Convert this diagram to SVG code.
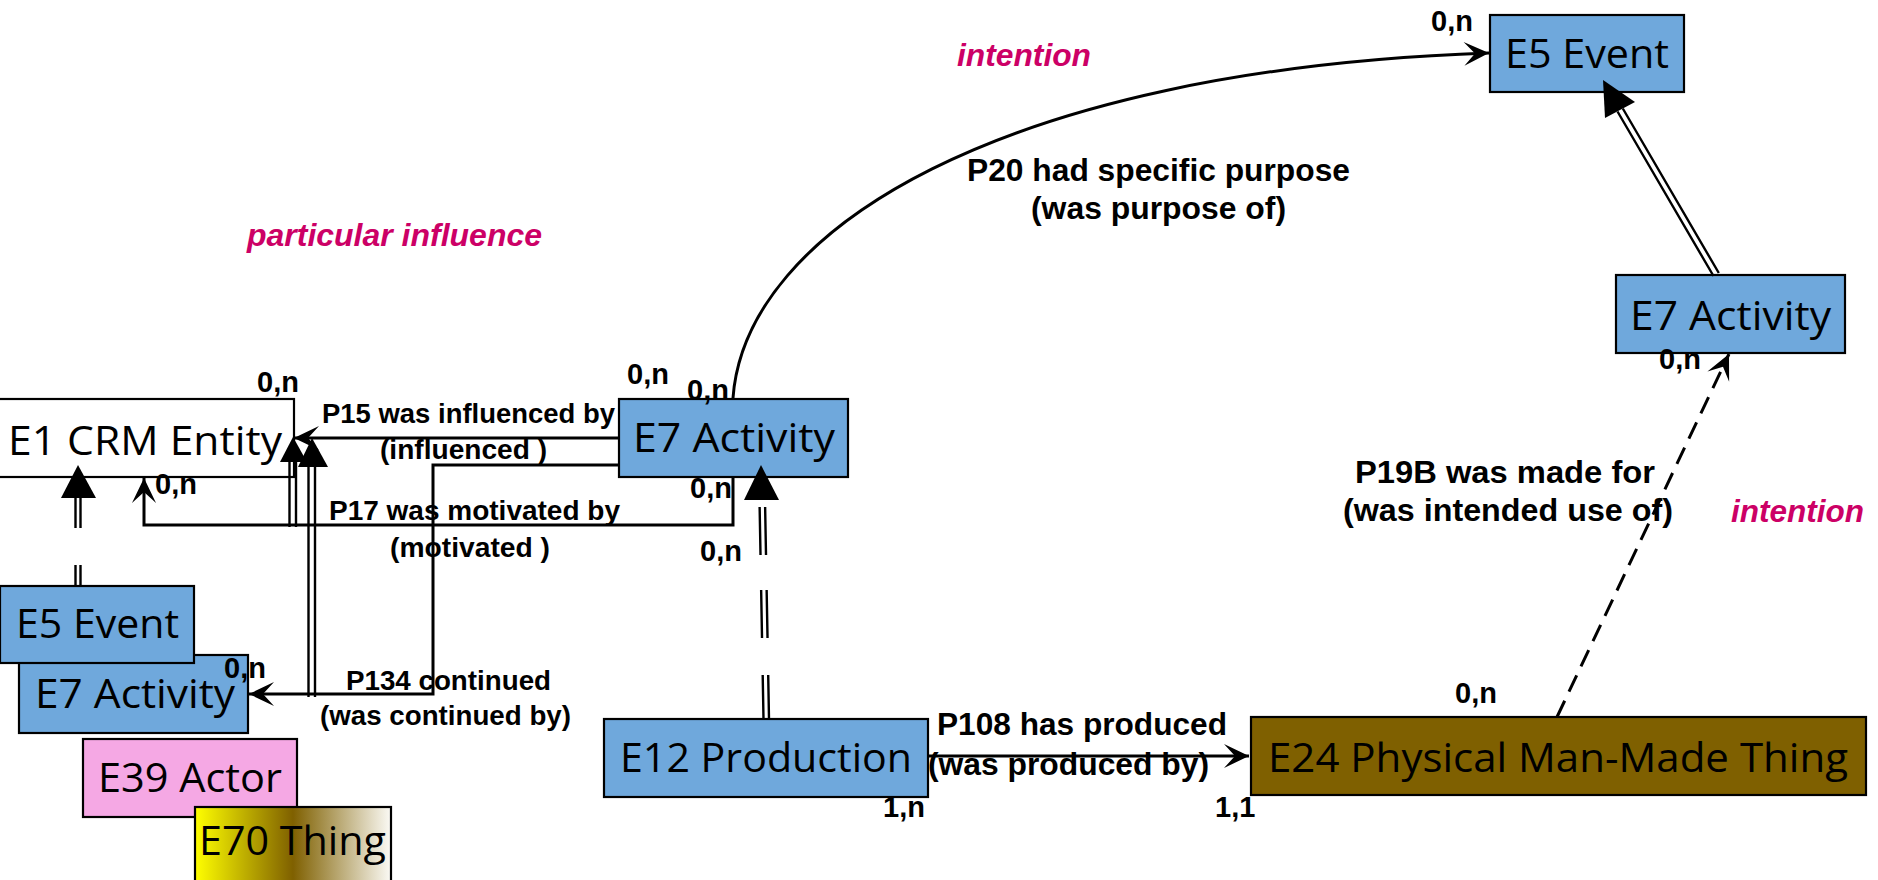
<svg xmlns="http://www.w3.org/2000/svg" width="1878" height="880" viewBox="0 0 1878 880">
<style>
.box{stroke:#000;stroke-width:2.2}
.blue{fill:#6fa8dc}
.nt{font-family:"Open Sans","Liberation Sans",sans-serif;font-size:41px;fill:#000;text-anchor:middle}
.lb{font-family:"Liberation Sans",Arial,sans-serif;font-weight:bold;font-size:27px;fill:#000;text-anchor:middle}
.lb2{font-family:"Liberation Sans",Arial,sans-serif;font-weight:bold;font-size:31px;fill:#000;text-anchor:middle}
.card{font-family:"Liberation Sans",Arial,sans-serif;font-weight:bold;font-size:29px;fill:#000}
.pink{font-family:"Liberation Sans",Arial,sans-serif;font-weight:bold;font-style:italic;font-size:31px;fill:#cc0066;text-anchor:middle}
.ln{fill:none;stroke:#000;stroke-width:3}
.dl{fill:none;stroke:#000;stroke-width:2.4}
</style>
<defs>
<marker id="st" markerWidth="30" markerHeight="26" refX="25" refY="12" orient="auto" markerUnits="userSpaceOnUse" viewBox="0 0 30 24" overflow="visible">
<path d="M25,12 L0,0 L11,12 L0,24 Z" fill="#000"/>
</marker>
<linearGradient id="g70" x1="0" y1="0" x2="1" y2="0">
<stop offset="0" stop-color="#ffff00"/>
<stop offset="0.5" stop-color="#7f6000"/>
<stop offset="1" stop-color="#fbfaf5"/>
</linearGradient>
</defs>

<g id="E1"><rect class="box" x="-3" y="399" width="297" height="78" fill="#fff"/><text class="nt" x="145" y="455" textLength="274" lengthAdjust="spacingAndGlyphs">E1 CRM Entity</text></g>
<g id="E7c"><rect class="box blue" x="619" y="399" width="229" height="78"/><text class="nt" x="734" y="452" textLength="202" lengthAdjust="spacingAndGlyphs">E7 Activity</text></g>
<g id="E7l"><rect class="box blue" x="19" y="655" width="229" height="78"/><text class="nt" x="135" y="708" textLength="200" lengthAdjust="spacingAndGlyphs">E7 Activity</text></g>
<g id="E5l"><rect class="box blue" x="0" y="586" width="194" height="77"/><text class="nt" x="97.5" y="638" textLength="163" lengthAdjust="spacingAndGlyphs">E5 Event</text></g>
<g id="E39"><rect class="box" x="83" y="739" width="214" height="78" fill="#f5a8e4"/><text class="nt" x="190" y="792" textLength="184" lengthAdjust="spacingAndGlyphs">E39 Actor</text></g>
<g id="E70"><rect class="box" x="195" y="807" width="196" height="76" fill="url(#g70)"/><text class="nt" x="292.5" y="855" textLength="187" lengthAdjust="spacingAndGlyphs">E70 Thing</text></g>
<g id="E12"><rect class="box blue" x="604" y="719" width="324" height="78"/><text class="nt" x="766" y="772" textLength="292" lengthAdjust="spacingAndGlyphs">E12 Production</text></g>
<g id="E24"><rect class="box" x="1251" y="717" width="615" height="78" fill="#7f6000"/><text class="nt" x="1558" y="772" textLength="580" lengthAdjust="spacingAndGlyphs">E24 Physical Man-Made Thing</text></g>
<g id="E5t"><rect class="box blue" x="1490" y="15" width="194" height="77"/><text class="nt" x="1587" y="68" textLength="164" lengthAdjust="spacingAndGlyphs">E5 Event</text></g>
<g id="E7r"><rect class="box blue" x="1616" y="275" width="229" height="78"/><text class="nt" x="1730.5" y="330" textLength="201" lengthAdjust="spacingAndGlyphs">E7 Activity</text></g>

<g id="connectors">
<path class="ln" d="M619,438 L294,438" marker-end="url(#st)"/>
<path class="ln" d="M733,477 L733,525 L144,525 L144,478" marker-end="url(#st)"/>
<path class="ln" d="M619,465 L433,465 L433,694 L249,694" marker-end="url(#st)"/>
<path class="ln" d="M733,398 C745,230 1000,70 1489,53" marker-end="url(#st)"/>
<path class="ln" d="M928,756 L1249,756" marker-end="url(#st)"/>
<path class="ln" d="M1557,717 L1729,354" stroke-width="2.6" stroke-dasharray="18 10" marker-end="url(#st)"/>
<!-- generalisation E5 left -> E1 -->
<path class="dl" d="M75.5,498 V528 M80.5,498 V528 M75.5,565 V586 M80.5,565 V586"/>
<polygon points="78,465 61,498 96,498" fill="#000"/>
<!-- pair A -->
<path class="dl" d="M289.5,462 V527 M296,462 V527"/>
<polygon points="293,437 280,462 307,462" fill="#000"/>
<!-- pair B -->
<path class="dl" d="M308.5,467 V697 M315,467 V697"/>
<polygon points="312,438 298,467 328,467" fill="#000"/>
<!-- E12 -> E7 central -->
<path class="dl" d="M763.5,719 L759.5,500 M769,719 L765,500" stroke-dasharray="44 37 48 35 48 40"/>
<polygon points="761,465 744,500 779,500" fill="#000"/>
<!-- E7 right -> E5 top -->
<path class="dl" d="M1617.5,111.5 L1713.5,276 M1622.8,108.5 L1718.8,273"/>
<polygon points="1603,80 1635,102 1605,118" fill="#000"/>
</g>

<g id="labels">
<text class="lb" x="468.5" y="423" textLength="293" lengthAdjust="spacingAndGlyphs">P15 was influenced by</text>
<text class="lb" x="463.5" y="459" textLength="167" lengthAdjust="spacingAndGlyphs">(influenced )</text>
<text class="lb" x="474.5" y="520" textLength="291" lengthAdjust="spacingAndGlyphs">P17 was motivated by</text>
<text class="lb" x="470" y="557" textLength="160" lengthAdjust="spacingAndGlyphs">(motivated )</text>
<text class="lb" x="448.5" y="690" textLength="205" lengthAdjust="spacingAndGlyphs">P134 continued</text>
<text class="lb" x="445.5" y="725" textLength="251" lengthAdjust="spacingAndGlyphs">(was continued by)</text>
<text class="lb2" x="1082" y="735" textLength="290" lengthAdjust="spacingAndGlyphs">P108 has produced</text>
<text class="lb2" x="1068.5" y="775" textLength="281" lengthAdjust="spacingAndGlyphs">(was produced by)</text>
<text class="lb2" x="1158.5" y="181" textLength="383" lengthAdjust="spacingAndGlyphs">P20 had specific purpose</text>
<text class="lb2" x="1158.5" y="219" textLength="255" lengthAdjust="spacingAndGlyphs">(was purpose of)</text>
<text class="lb2" x="1505" y="483" textLength="300" lengthAdjust="spacingAndGlyphs">P19B was made for</text>
<text class="lb2" x="1508" y="521" textLength="330" lengthAdjust="spacingAndGlyphs">(was intended use of)</text>
<text class="pink" x="394.5" y="246" textLength="295" lengthAdjust="spacingAndGlyphs">particular influence</text>
<text class="pink" x="1024" y="66" textLength="134" lengthAdjust="spacingAndGlyphs">intention</text>
<text class="pink" x="1797.5" y="522" textLength="133" lengthAdjust="spacingAndGlyphs">intention</text>
<text class="card" x="257" y="392">0,n</text>
<text class="card" x="155" y="494">0,n</text>
<text class="card" x="627" y="384">0,n</text>
<text class="card" x="687" y="400">0,n</text>
<text class="card" x="690" y="498">0,n</text>
<text class="card" x="700" y="561">0,n</text>
<text class="card" x="224" y="678">0,n</text>
<text class="card" x="1455" y="703">0,n</text>
<text class="card" x="1215" y="817">1,1</text>
<text class="card" x="883" y="817">1,n</text>
<text class="card" x="1431" y="31">0,n</text>
<text class="card" x="1659" y="369">0,n</text>
</g>
</svg>
